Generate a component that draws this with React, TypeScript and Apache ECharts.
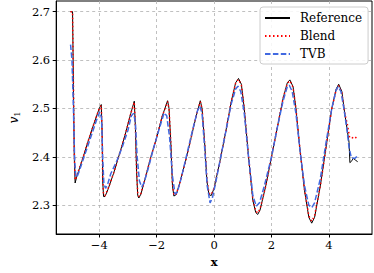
import React, { useEffect, useRef } from "react";
import * as echarts from "echarts";

const xTicks = [-4, -2, 0, 2, 4];
const yTicks = [2.3, 2.4, 2.5, 2.6, 2.7];

const refX = [-5.0, -4.93, -4.9, -4.87, -4.84, -4.78, -4.6, -4.4, -4.2, -4.0, -3.93, -3.9, -3.88, -3.85, -3.8, -3.7, -3.5, -3.3, -3.1, -2.9, -2.78, -2.74, -2.7, -2.66, -2.62, -2.55, -2.4, -2.2, -2.0, -1.8, -1.62, -1.57, -1.5, -1.45, -1.4, -1.32, -1.2, -1.0, -0.8, -0.6, -0.48, -0.42, -0.33, -0.25, -0.18, -0.1, 0.0, 0.2, 0.4, 0.6, 0.75, 0.85, 0.95, 1.05, 1.2, 1.35, 1.45, 1.52, 1.6, 1.8, 2.0, 2.2, 2.4, 2.55, 2.64, 2.75, 2.85, 3.0, 3.15, 3.3, 3.4, 3.5, 3.7, 3.9, 4.1, 4.25, 4.34, 4.45, 4.55, 4.65, 4.7, 4.73, 4.8, 4.85, 4.93, 5.0];
const refY = [2.7, 2.7, 2.55, 2.4, 2.346, 2.36, 2.392, 2.43, 2.466, 2.5, 2.508, 2.45, 2.35, 2.318, 2.318, 2.332, 2.366, 2.405, 2.445, 2.49, 2.515, 2.46, 2.37, 2.32, 2.315, 2.323, 2.355, 2.4, 2.44, 2.485, 2.516, 2.5, 2.42, 2.34, 2.319, 2.322, 2.345, 2.39, 2.44, 2.49, 2.516, 2.5, 2.43, 2.35, 2.322, 2.32, 2.335, 2.39, 2.45, 2.515, 2.553, 2.562, 2.55, 2.5, 2.4, 2.31, 2.285, 2.281, 2.29, 2.34, 2.4, 2.46, 2.52, 2.553, 2.559, 2.545, 2.5, 2.41, 2.33, 2.275, 2.263, 2.275, 2.34, 2.42, 2.5, 2.54, 2.55, 2.535, 2.49, 2.45, 2.43, 2.388, 2.392, 2.397, 2.393, 2.39];

const blendX = [-5.0, -4.93, -4.9, -4.87, -4.84, -4.78, -4.6, -4.4, -4.2, -4.0, -3.93, -3.9, -3.88, -3.85, -3.8, -3.7, -3.5, -3.3, -3.1, -2.9, -2.78, -2.74, -2.7, -2.66, -2.62, -2.55, -2.4, -2.2, -2.0, -1.8, -1.62, -1.57, -1.5, -1.45, -1.4, -1.32, -1.2, -1.0, -0.8, -0.6, -0.48, -0.42, -0.33, -0.25, -0.18, -0.1, 0.0, 0.2, 0.4, 0.6, 0.75, 0.85, 0.95, 1.05, 1.2, 1.35, 1.45, 1.52, 1.6, 1.8, 2.0, 2.2, 2.4, 2.55, 2.64, 2.75, 2.85, 3.0, 3.15, 3.3, 3.4, 3.5, 3.7, 3.9, 4.1, 4.25, 4.34, 4.45, 4.55, 4.65, 4.72, 4.8, 4.9, 5.0];
const blendY = [2.7, 2.7, 2.55, 2.41, 2.352, 2.362, 2.392, 2.43, 2.466, 2.5, 2.506, 2.45, 2.355, 2.322, 2.32, 2.333, 2.366, 2.405, 2.445, 2.49, 2.513, 2.46, 2.375, 2.325, 2.318, 2.324, 2.355, 2.4, 2.44, 2.485, 2.514, 2.5, 2.42, 2.345, 2.321, 2.323, 2.345, 2.39, 2.44, 2.49, 2.514, 2.5, 2.43, 2.355, 2.325, 2.322, 2.335, 2.39, 2.45, 2.515, 2.552, 2.56, 2.549, 2.5, 2.4, 2.312, 2.288, 2.284, 2.292, 2.34, 2.4, 2.46, 2.52, 2.552, 2.557, 2.544, 2.5, 2.41, 2.332, 2.278, 2.267, 2.278, 2.34, 2.42, 2.5, 2.538, 2.547, 2.532, 2.49, 2.465, 2.44, 2.439, 2.442, 2.436];

const tvbX = [-5.0, -4.95, -4.9, -4.86, -4.82, -4.78, -4.7, -4.5, -4.3, -4.1, -3.98, -3.92, -3.88, -3.84, -3.78, -3.7, -3.6, -3.4, -3.2, -3.0, -2.88, -2.8, -2.74, -2.68, -2.6, -2.52, -2.45, -2.3, -2.1, -1.9, -1.74, -1.65, -1.55, -1.45, -1.36, -1.28, -1.15, -0.95, -0.75, -0.58, -0.5, -0.42, -0.33, -0.24, -0.14, -0.06, 0.05, 0.2, 0.4, 0.6, 0.75, 0.83, 0.93, 1.05, 1.2, 1.35, 1.47, 1.58, 1.75, 2.0, 2.2, 2.4, 2.55, 2.62, 2.72, 2.85, 3.0, 3.15, 3.3, 3.4, 3.5, 3.7, 3.9, 4.1, 4.25, 4.32, 4.42, 4.52, 4.62, 4.7, 4.78, 4.9, 5.0];
const tvbY = [2.632, 2.6, 2.5, 2.4, 2.36, 2.358, 2.37, 2.405, 2.44, 2.475, 2.493, 2.48, 2.4, 2.345, 2.335, 2.345, 2.365, 2.39, 2.42, 2.455, 2.485, 2.49, 2.47, 2.4, 2.35, 2.338, 2.345, 2.375, 2.42, 2.46, 2.491, 2.485, 2.44, 2.36, 2.323, 2.327, 2.355, 2.405, 2.455, 2.495, 2.505, 2.49, 2.42, 2.34, 2.305, 2.315, 2.345, 2.39, 2.45, 2.51, 2.54, 2.546, 2.535, 2.49, 2.4, 2.32, 2.298, 2.305, 2.34, 2.4, 2.46, 2.515, 2.545, 2.548, 2.535, 2.49, 2.41, 2.34, 2.3, 2.295, 2.305, 2.355, 2.43, 2.5, 2.538, 2.545, 2.535, 2.5, 2.46, 2.42, 2.398, 2.397, 2.402];

const zip = (xs: number[], ys: number[]) => xs.map((x, i) => [x, ys[i]]);

const FONT = "'DejaVu Serif', 'Liberation Serif', serif";

export default function App() {
  const ref = useRef<HTMLDivElement>(null);
  useEffect(() => {
    if (!ref.current) return;
    const chart = echarts.init(ref.current, null, { renderer: "svg" });
    const gridLine = { show: true, lineStyle: { color: "#b0b0b0", type: [3, 3] as any, width: 0.8 } };
    chart.setOption({
      animation: false,
      backgroundColor: "#fff",
      textStyle: { fontFamily: FONT },
      grid: { left: 39, right: 2, top: 1, bottom: 31, show: true, borderColor: "#000", borderWidth: 1, backgroundColor: "transparent" },
      legend: {
        left: 260,
        top: 7,
        orient: "vertical",
        itemWidth: 25,
        itemHeight: 12,
        itemGap: 6,
        padding: [5, 6, 4, 4],
        backgroundColor: "rgba(255,255,255,0.85)",
        borderColor: "#cccccc",
        borderWidth: 1,
        borderRadius: 3,
        itemStyle: { opacity: 0 },
        textStyle: { fontFamily: FONT, fontSize: 12, color: "#000", padding: [0, 0, 0, 5] },
        data: ["Reference", "Blend", "TVB"],
      },
      xAxis: {
        type: "value",
        min: -5.5,
        max: 5.5,
        name: "x",
        nameLocation: "middle",
        nameGap: 22,
        nameTextStyle: { fontFamily: FONT, fontSize: 11.5, color: "#000", fontWeight: "bold" },
        axisLine: { show: true, onZero: false, lineStyle: { color: "#000", width: 1 } },
        axisTick: { show: true, length: 3.5, lineStyle: { color: "#000" }, customValues: xTicks },
        axisLabel: {
          fontFamily: FONT, fontSize: 11.5, color: "#000", margin: 5,
          customValues: xTicks,
          formatter: (v: number) => (v < 0 ? "\u2212" + Math.abs(v) : String(v)),
        },
        splitLine: gridLine,
      },
      yAxis: {
        type: "value",
        min: 2.2406,
        max: 2.722,
        name: "{i|v}{s|1}",
        nameLocation: "middle",
        nameGap: 33,
        nameRotate: 90,
        nameTextStyle: {
          color: "#000",
          rich: {
            i: { fontFamily: FONT, fontSize: 12, fontStyle: "italic", color: "#000" },
            s: { fontFamily: FONT, fontSize: 8, color: "#000", verticalAlign: "bottom", padding: [6, 0, 0, 0] },
          },
        },
        axisLine: { show: true, onZero: false, lineStyle: { color: "#000", width: 1 } },
        axisTick: { show: true, length: 3.5, lineStyle: { color: "#000" }, customValues: yTicks },
        axisLabel: {
          fontFamily: FONT, fontSize: 11.5, color: "#000", margin: 6,
          customValues: yTicks,
          formatter: (v: number) => v.toFixed(1),
        },
        splitLine: gridLine,
      },
      series: [
        {
          name: "Reference", type: "line", data: zip(refX, refY), symbol: "none", showSymbol: false,
          lineStyle: { color: "#000", width: 1 }, itemStyle: { color: "#000" },
        },
        {
          name: "Blend", type: "line", data: zip(blendX, blendY), symbol: "none", showSymbol: false,
          lineStyle: { color: "#ff0000", width: 1.5, type: [1.5, 2.5] }, itemStyle: { color: "#ff0000" },
        },
        {
          name: "TVB", type: "line", data: zip(tvbX, tvbY), symbol: "none", showSymbol: false,
          lineStyle: { color: "#4169e1", width: 1.5, type: [5.5, 2.4] }, itemStyle: { color: "#4169e1" },
        },
      ],
    });
    return () => chart.dispose();
  }, []);
  return <div ref={ref} style={{ width: 374, height: 273, position: "absolute", left: 0, top: 0 }} />;
}
